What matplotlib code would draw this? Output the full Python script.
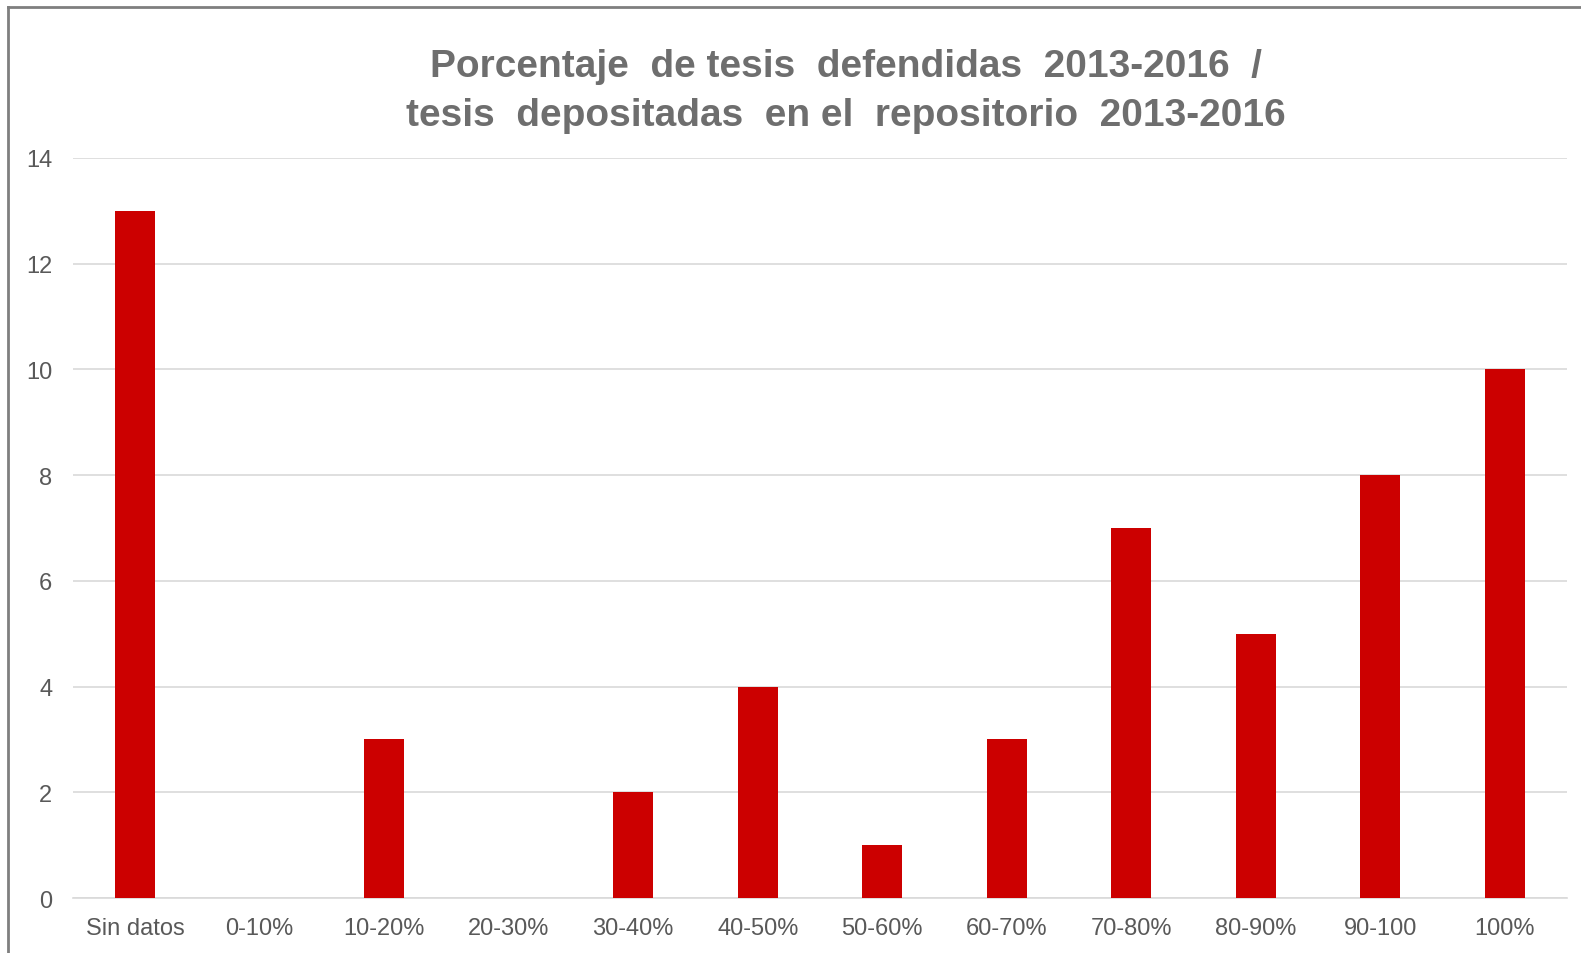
import matplotlib.pyplot as plt
from matplotlib.lines import Line2D
import numpy as np

categories = ['Sin datos', '0-10%', '10-20%', '20-30%', '30-40%', '40-50%',
              '50-60%', '60-70%', '70-80%', '80-90%', '90-100', '100%']
values = [13, 0, 3, 0, 2, 4, 1, 3, 7, 5, 8, 10]

plt.rcParams['font.family'] = ['Liberation Sans', 'DejaVu Sans']

fig = plt.figure(figsize=(15.81, 9.54), dpi=100)
ax = fig.add_axes([73 / 1581, 1 - 899 / 954, (1567 - 73) / 1581, (899 - 159) / 954])

x = np.arange(len(categories))
ax.bar(x, values, width=0.32, color='#cc0000', zorder=3)

ax.set_xlim(-0.5, len(categories) - 0.5)
ax.set_ylim(0, 14)
ax.set_yticks(range(0, 15, 2))
ax.set_xticks(x)
ax.set_xticklabels(categories)
ax.grid(axis='y', color='#d9d9d9', linewidth=1.2, zorder=0)
for s in ['top', 'right', 'left']:
    ax.spines[s].set_visible(False)
ax.spines['bottom'].set_color('#d9d9d9')
ax.spines['bottom'].set_linewidth(1.2)
ax.tick_params(axis='both', length=0, labelsize=17, labelcolor='#595959')
ax.tick_params(axis='y', pad=15)
ax.tick_params(axis='x', pad=14)

# titulo en dos lineas
tc = '#6e6e6e'
fig.text(846 / 1581, 1 - 67 / 954, 'Porcentaje  de tesis  defendidas  2013-2016  /',
         ha='center', va='center', fontsize=28, fontweight='bold', color=tc)
fig.text(846 / 1581, 1 - 116 / 954, 'tesis  depositadas  en el  repositorio  2013-2016',
         ha='center', va='center', fontsize=28, fontweight='bold', color=tc)

# marco
bx = 8 / 1581
by = 1 - 8 / 954
fig.add_artist(Line2D([bx, 1], [by, by], transform=fig.transFigure, color='#7f7f7f', lw=2))
fig.add_artist(Line2D([bx, bx], [0, by], transform=fig.transFigure, color='#7f7f7f', lw=2))

fig.savefig('out.png', dpi=100, facecolor='white')
